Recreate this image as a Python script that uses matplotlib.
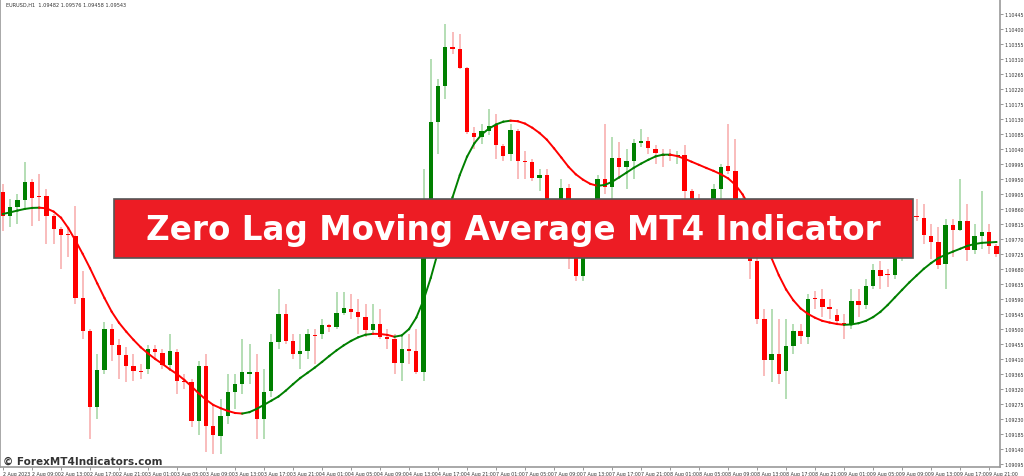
import numpy as np
import matplotlib
matplotlib.use("Agg")
import matplotlib.pyplot as plt

# EURUSD H1 candles, prices in points (1e-5)
opens = [109911, 109839, 109866, 109887, 109941, 109896, 109899, 109839, 109800, 109782,
         109779, 109593, 109494, 109266, 109377, 109500, 109452, 109422, 109389, 109371,
         109380, 109440, 109428, 109392, 109431, 109344, 109341, 109224, 109389, 109209,
         109179, 109239, 109311, 109335, 109365, 109371, 109230, 109314, 109461, 109545,
         109464, 109425, 109434, 109479, 109485, 109512, 109506, 109548, 109560, 109551,
         109536, 109497, 109515, 109476, 109470, 109398, 109440, 109434, 109371, 109890,
         110121, 110229, 110346, 110340, 110283, 110088, 110076, 110094, 110112, 110049,
         110025, 110094, 110004, 110001, 109953, 109962, 109845, 109785, 109923, 109770,
         109659, 109770, 109815, 109950, 109926, 110013, 109986, 110004, 110058, 110064,
         110040, 110019, 110025, 110019, 110022, 109914, 109890, 109860, 109890, 109920,
         109989, 109974, 109890, 109800, 109704, 109530, 109407, 109425, 109374, 109449,
         109494, 109476, 109590, 109590, 109566, 109542, 109518, 109515, 109584, 109572,
         109629, 109677, 109662, 109662, 109716, 109815, 109839, 109833, 109779, 109761,
         109695, 109812, 109797, 109824, 109737, 109779, 109791, 109749]
closes = [109839, 109866, 109887, 109941, 109893, 109896, 109839, 109800, 109782, 109782,
          109593, 109494, 109266, 109377, 109500, 109452, 109422, 109389, 109374, 109371,
          109440, 109431, 109392, 109434, 109344, 109341, 109224, 109389, 109209, 109182,
          109239, 109311, 109335, 109371, 109371, 109230, 109311, 109461, 109545, 109464,
          109425, 109434, 109485, 109479, 109512, 109506, 109548, 109563, 109551, 109536,
          109497, 109515, 109476, 109470, 109398, 109440, 109434, 109371, 109890, 110121,
          110229, 110346, 110340, 110283, 110091, 110076, 110094, 110109, 110052, 110019,
          110097, 110004, 110001, 109953, 109962, 109845, 109785, 109923, 109770, 109659,
          109770, 109815, 109950, 109926, 110013, 109986, 110004, 110058, 110064, 110043,
          110028, 110019, 110019, 110022, 109914, 109890, 109860, 109875, 109920, 109986,
          109974, 109890, 109800, 109704, 109530, 109407, 109425, 109365, 109449, 109494,
          109479, 109590, 109590, 109566, 109560, 109524, 109515, 109584, 109572, 109629,
          109677, 109659, 109662, 109716, 109815, 109839, 109836, 109782, 109761, 109692,
          109812, 109797, 109824, 109737, 109779, 109791, 109749, 109725]
highs = [109935, 109890, 109905, 110001, 109950, 109965, 109920, 109845, 109806, 109800,
         109869, 109674, 109500, 109425, 109521, 109515, 109470, 109446, 109425, 109395,
         109452, 109452, 109440, 109485, 109440, 109365, 109350, 109404, 109425, 109275,
         109290, 109365, 109365, 109470, 109455, 109425, 109380, 109485, 109620, 109575,
         109485, 109485, 109500, 109500, 109530, 109515, 109611, 109611, 109605, 109590,
         109575, 109575, 109560, 109500, 109485, 109485, 109485, 109500, 109980, 110310,
         110250, 110415, 110391, 110385, 110286, 110106, 110115, 110160, 110145, 110055,
         110115, 110100, 110034, 110010, 109980, 109980, 109860, 109950, 109935, 109800,
         109815, 109860, 109962, 110115, 110076, 110061, 110040, 110070, 110100, 110076,
         110052, 110040, 110040, 110034, 110052, 109920, 109905, 109890, 109935, 109995,
         110115, 110070, 109905, 109815, 109725, 109560, 109560, 109530, 109530, 109515,
         109515, 109605, 109614, 109620, 109590, 109560, 109545, 109620, 109620, 109650,
         109695, 109704, 109680, 109755, 109845, 109875, 109890, 109875, 109815, 109806,
         109830, 109830, 109950, 109875, 109815, 109914, 109815, 109755]
lows = [109794, 109806, 109815, 109860, 109809, 109824, 109755, 109755, 109680, 109716,
        109575, 109470, 109170, 109230, 109365, 109404, 109350, 109341, 109344, 109350,
        109365, 109410, 109380, 109374, 109305, 109320, 109206, 109182, 109131, 109125,
        109125, 109215, 109260, 109305, 109335, 109170, 109170, 109296, 109440, 109455,
        109410, 109380, 109410, 109395, 109470, 109491, 109500, 109542, 109530, 109485,
        109476, 109485, 109470, 109440, 109365, 109344, 109395, 109365, 109344, 109860,
        110025, 110190, 110325, 110280, 110085, 110040, 110055, 110082, 110010, 110004,
        110004, 109950, 109950, 109944, 109914, 109815, 109740, 109770, 109680, 109644,
        109644, 109740, 109800, 109905, 109890, 109950, 109920, 109950, 110046, 110025,
        109995, 109986, 110004, 109995, 109890, 109845, 109800, 109815, 109875, 109890,
        109965, 109845, 109755, 109650, 109515, 109359, 109341, 109335, 109290, 109425,
        109455, 109455, 109560, 109536, 109530, 109515, 109470, 109500, 109536, 109560,
        109620, 109620, 109626, 109650, 109704, 109800, 109824, 109755, 109710, 109680,
        109620, 109716, 109794, 109704, 109725, 109740, 109725, 109716]

time_labels = ["2 Aug 2023", "2 Aug 09:00", "2 Aug 13:00", "2 Aug 17:00", "2 Aug 21:00",
               "3 Aug 01:00", "3 Aug 05:00", "3 Aug 09:00", "3 Aug 13:00", "3 Aug 17:00", "3 Aug 21:00",
               "4 Aug 01:00", "4 Aug 05:00", "4 Aug 09:00", "4 Aug 13:00", "4 Aug 17:00", "4 Aug 21:00",
               "7 Aug 01:00", "7 Aug 05:00", "7 Aug 09:00", "7 Aug 13:00", "7 Aug 17:00", "7 Aug 21:00",
               "8 Aug 01:00", "8 Aug 05:00", "8 Aug 09:00", "8 Aug 13:00", "8 Aug 17:00", "8 Aug 21:00",
               "9 Aug 01:00", "9 Aug 05:00", "9 Aug 09:00", "9 Aug 13:00", "9 Aug 17:00", "9 Aug 21:00"]
price_ticks = [1.09095 + 0.00045 * k for k in range(31)]

o = np.array(opens) / 1e5
c = np.array(closes) / 1e5
h = np.array(highs) / 1e5
l = np.array(lows) / 1e5
n = len(o)
x = np.arange(n)

# zero lag style moving average of closes (smoothed, lag-compensated)
period = 22
alpha = 2.0 / (period + 1)
e1 = np.zeros(n)
e2 = np.zeros(n)
e1[0] = e2[0] = c[0]
for i in range(1, n):
    e1[i] = e1[i - 1] + alpha * (c[i] - e1[i - 1])
    e2[i] = e2[i - 1] + alpha * (e1[i] - e2[i - 1])
zl = 2 * e1 - e2
# light smoothing like the indicator's curve
k = 3
zl = np.convolve(np.concatenate([np.full(k, zl[0]), zl, np.full(k, zl[-1])]),
                 np.ones(2 * k + 1) / (2 * k + 1), mode="same")[k:-k]

fig = plt.figure(figsize=(10.24, 4.77), dpi=100)
ax = fig.add_axes([0, 9 / 477, 1000 / 1024, 468 / 477])

for i in range(n):
    up = c[i] > o[i]
    body = "#008000" if up else "#ff0000"
    wick = "#a8d8a8" if up else "#f8b0b0"
    ax.vlines(x[i], l[i], h[i], color=wick, lw=1.2, zorder=1)
    bot = min(o[i], c[i])
    ht = max(abs(c[i] - o[i]), 0.000025)
    ax.bar(x[i], ht, bottom=bot, width=0.6, color=body, zorder=2)

for i in range(1, n):
    col = "#008000" if zl[i] >= zl[i - 1] else "#ff0000"
    ax.plot(x[i - 1:i + 1], zl[i - 1:i + 1], color=col, lw=1.4, zorder=3)

ax.set_xlim(-0.41, 137.5)
ax.set_ylim(1.09086, 1.10490)
ax.yaxis.tick_right()
ax.set_yticks(price_ticks)
ax.set_yticklabels([f"{p:.5f}" for p in price_ticks], fontsize=3.4, color="#333333")
ax.set_xticks(np.arange(0, n, 4))
ax.set_xticklabels(time_labels, fontsize=3.4, color="#333333", ha="left")
ax.tick_params(length=2, width=0.6, color="#888888", pad=1)
ax.spines["top"].set_visible(False)
for s in ["left", "right", "bottom"]:
    ax.spines[s].set_color("#999999")
    ax.spines[s].set_linewidth(1.2)

ax.text(0.006, 0.995, "EURUSD,H1  1.09482 1.09576 1.09458 1.09543", transform=ax.transAxes,
        fontsize=3.6, va="top", color="#333333")
ax.text(0.003, 0.003, "© ForexMT4Indicators.com", transform=ax.transAxes,
        fontsize=7.5, fontweight="bold", color="#333333", va="bottom")

# title banner
fig.patches.append(plt.Rectangle((114 / 1024, 1 - 259 / 477), (913 - 114) / 1024, 59 / 477,
                                 transform=fig.transFigure, facecolor="#ed1c24",
                                 edgecolor="#555555", lw=1.2, zorder=5))
fig.text(513 / 1024, 1 - 231 / 477, "Zero Lag Moving Average MT4 Indicator", color="white",
         fontsize=23.5, fontweight="bold", ha="center", va="center", zorder=6, family="DejaVu Sans")

fig.savefig("out.png", dpi=100)
